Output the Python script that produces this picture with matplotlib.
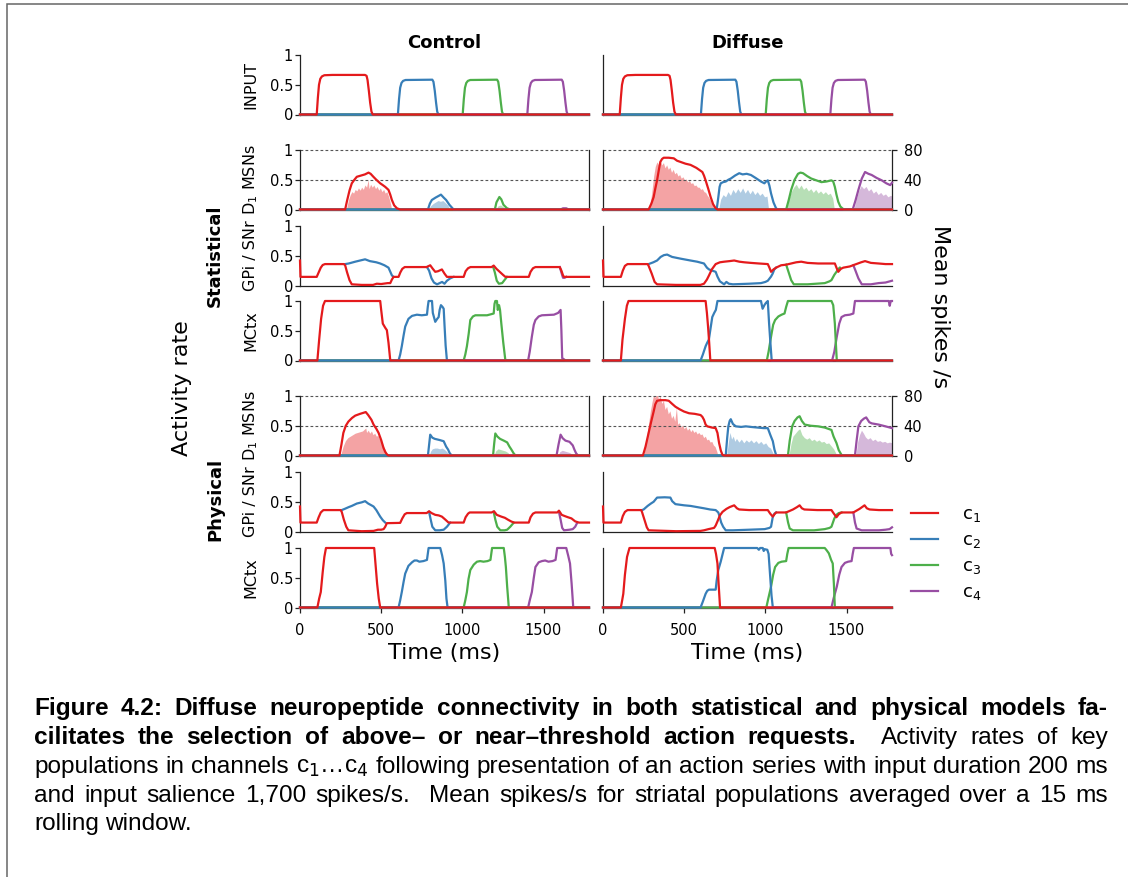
import matplotlib
matplotlib.use('Agg')
import matplotlib.pyplot as plt
from matplotlib.lines import Line2D
from matplotlib.patches import Rectangle

plt.rcParams['font.family'] = ['DejaVu Sans']
plt.rcParams['mathtext.fontset'] = 'dejavusans'

# ---- labels / categories ----
column_titles = ['Control', 'Diffuse']
model_names = ['Statistical', 'Physical']
row_labels = ['INPUT', 'D$_1$ MSNs', 'GPi / SNr', 'MCtx', 'D$_1$ MSNs', 'GPi / SNr', 'MCtx']
channel_names = ['c$_1$', 'c$_2$', 'c$_3$', 'c$_4$']
channel_colors = ['#e41a1c', '#377eb8', '#4daf4a', '#984ea3']
time_ticks = [0, 500, 1000, 1500]
rate_ticks = [0, 0.5, 1]
rate_ticklabels = ['0', '0.5', '1']
spike_ticks = [0, 40, 80]
t_max = 1780

# ---- input salience (same for both columns), (time ms, activity) ----
input_c1 = [(0, 0), (103, 0), (110, 0.28), (117, 0.5), (125, 0.6), (135, 0.64), (150, 0.66), (200, 0.665),
            (400, 0.665), (410, 0.65), (416, 0.58), (424, 0.4), (432, 0.2), (440, 0.05), (448, 0), (1780, 0)]
input_c2 = [(0, 0), (603, 0), (610, 0.26), (617, 0.45), (625, 0.53), (635, 0.565), (650, 0.58), (815, 0.585),
            (822, 0.55), (830, 0.4), (838, 0.2), (845, 0.05), (852, 0), (1780, 0)]
input_c3 = [(0, 0), (1002, 0), (1009, 0.26), (1016, 0.45), (1024, 0.53), (1034, 0.565), (1049, 0.58), (1214, 0.585),
            (1221, 0.55), (1229, 0.4), (1237, 0.2), (1244, 0.05), (1251, 0), (1780, 0)]
input_c4 = [(0, 0), (1400, 0), (1407, 0.26), (1414, 0.45), (1422, 0.53), (1432, 0.565), (1447, 0.58), (1612, 0.585),
            (1619, 0.55), (1627, 0.4), (1635, 0.2), (1642, 0.05), (1649, 0), (1780, 0)]

# ---- statistical / control ----
sc_d1_c1 = [(0, 0), (278, 0), (290, 0.15), (305, 0.32), (319, 0.44), (335, 0.5), (350, 0.55), (375, 0.57),
            (400, 0.59), (422, 0.62), (435, 0.6), (452, 0.55), (470, 0.5), (494, 0.44), (510, 0.41), (525, 0.38),
            (545, 0.33), (556, 0.25), (566, 0.16), (580, 0.07), (597, 0.02), (617, 0), (1780, 0)]
sc_d1_c2 = [(0, 0), (788, 0), (800, 0.1), (812, 0.16), (835, 0.2), (855, 0.23), (868, 0.25), (885, 0.2),
            (900, 0.16), (920, 0.08), (946, 0), (1780, 0)]
sc_d1_c3 = [(0, 0), (1200, 0), (1210, 0.12), (1228, 0.21), (1240, 0.17), (1253, 0.08), (1275, 0.02), (1296, 0),
            (1780, 0)]
sc_d1_c4 = [(0, 0), (1605, 0), (1620, 0.02), (1640, 0.02), (1655, 0), (1780, 0)]
# mean spikes/s
sc_fill_c1 = [(285, 0), (300, 14), (310, 20), (320, 24), (330, 22), (340, 27), (350, 25), (360, 29), (370, 26),
              (380, 30), (390, 27), (400, 33), (410, 30), (420, 40), (425, 28), (435, 34), (445, 30), (455, 33),
              (465, 28), (475, 31), (485, 26), (495, 29), (505, 24), (515, 27), (525, 22), (535, 24), (545, 18),
              (555, 10), (565, 0)]
sc_fill_c2 = [(790, 0), (805, 5), (820, 8), (835, 10), (850, 12), (865, 11), (880, 12), (895, 9), (910, 6), (925, 0)]
sc_fill_c3 = [(1205, 0), (1220, 5), (1235, 6), (1250, 4), (1265, 0)]
sc_fill_c4 = [(1610, 0), (1625, 1), (1640, 0)]

sc_gp_c1 = [(0, 0.42), (3, 0.145), (103, 0.145), (115, 0.22), (128, 0.3), (140, 0.345), (154, 0.36), (270, 0.36),
            (278, 0.34), (290, 0.22), (305, 0.09), (319, 0.02), (380, 0.01), (450, 0.01), (473, 0.03), (500, 0.025),
            (540, 0.04), (556, 0.04), (566, 0.1), (576, 0.145), (607, 0.145), (618, 0.22), (630, 0.28), (645, 0.31),
            (780, 0.31), (802, 0.34), (818, 0.28), (833, 0.23), (850, 0.24), (874, 0.27), (890, 0.2), (905, 0.145),
            (1008, 0.145), (1020, 0.24), (1035, 0.29), (1050, 0.31), (1180, 0.31), (1193, 0.335), (1210, 0.28),
            (1230, 0.23), (1250, 0.18), (1265, 0.145), (1409, 0.145), (1420, 0.23), (1435, 0.29), (1450, 0.31),
            (1600, 0.31), (1610, 0.25), (1620, 0.17), (1626, 0.145), (1780, 0.145)]
sc_gp_c2 = [[(278, 0.36), (300, 0.37), (340, 0.4), (370, 0.42), (401, 0.44), (430, 0.41), (470, 0.39), (494, 0.37),
             (520, 0.34), (545, 0.3), (566, 0.17), (576, 0.145)],
            [(782, 0.31), (795, 0.25), (810, 0.12), (825, 0.05), (844, 0.02), (860, 0.04), (875, 0.06), (890, 0.03),
             (905, 0.08), (925, 0.12), (946, 0.145)]]
sc_gp_c3 = [(1190, 0.31), (1200, 0.22), (1212, 0.08), (1225, 0.03), (1245, 0.04), (1262, 0.1), (1275, 0.145)]
sc_gp_c4 = [(1600, 0.31), (1612, 0.2), (1620, 0.13), (1630, 0.13), (1640, 0.145)]

sc_mc_c1 = [(0, 0), (107, 0), (118, 0.35), (130, 0.7), (142, 0.92), (154, 1.0), (494, 1.0), (500, 0.85), (510, 0.62),
            (525, 0.55), (535, 0.51), (545, 0.3), (556, 0), (1780, 0)]
sc_mc_c2 = [(0, 0), (607, 0), (617, 0.1), (627, 0.24), (638, 0.42), (648, 0.57), (668, 0.7), (690, 0.75), (720, 0.77),
            (750, 0.76), (782, 0.77), (787, 0.9), (792, 1.0), (813, 1.0), (818, 0.8), (833, 0.65), (845, 0.7),
            (854, 0.73), (860, 0.85), (868, 0.93), (878, 0.9), (885, 0.87), (890, 0.6), (897, 0.25), (905, 0),
            (1780, 0)]
sc_mc_c3 = [(0, 0), (1008, 0), (1018, 0.1), (1028, 0.24), (1039, 0.45), (1049, 0.68), (1065, 0.74), (1080, 0.76),
            (1152, 0.76), (1180, 0.78), (1193, 0.79), (1198, 0.95), (1203, 1.0), (1213, 1.0), (1218, 0.85),
            (1226, 0.93), (1232, 0.85), (1240, 0.62), (1252, 0.3), (1265, 0), (1780, 0)]
sc_mc_c4 = [(0, 0), (1405, 0), (1415, 0.15), (1428, 0.4), (1440, 0.6), (1450, 0.68), (1470, 0.74), (1490, 0.76),
            (1564, 0.77), (1590, 0.8), (1605, 0.85), (1610, 0.5), (1615, 0.04), (1636, 0), (1780, 0)]

# ---- statistical / diffuse ----
sd_d1_c1 = [(0, 0), (281, 0), (298, 0.1), (312, 0.21), (322, 0.35), (333, 0.49), (343, 0.65), (353, 0.8), (364, 0.85),
            (374, 0.87), (405, 0.87), (436, 0.86), (456, 0.82), (477, 0.8), (508, 0.77), (539, 0.75), (575, 0.7),
            (612, 0.63), (622, 0.57), (632, 0.49), (648, 0.35), (663, 0.21), (678, 0.09), (694, 0.02), (705, 0),
            (1780, 0)]
sd_d1_c2 = [(0, 0), (700, 0), (710, 0.2), (718, 0.38), (725, 0.44), (740, 0.46), (756, 0.47), (772, 0.5), (787, 0.52),
            (813, 0.57), (839, 0.61), (860, 0.59), (885, 0.6), (911, 0.58), (940, 0.53), (973, 0.47), (994, 0.44),
            (1004, 0.47), (1015, 0.49), (1025, 0.4), (1035, 0.27), (1050, 0.12), (1066, 0.02), (1076, 0), (1780, 0)]
sd_d1_c3 = [(0, 0), (1128, 0), (1143, 0.15), (1159, 0.33), (1180, 0.5), (1201, 0.6), (1216, 0.62), (1232, 0.61),
            (1258, 0.56), (1283, 0.52), (1314, 0.49), (1345, 0.46), (1376, 0.47), (1407, 0.49), (1418, 0.47),
            (1428, 0.38), (1438, 0.25), (1449, 0.13), (1462, 0.05), (1474, 0.02), (1484, 0), (1780, 0)]
sd_d1_c4 = [(0, 0), (1538, 0), (1555, 0.15), (1573, 0.33), (1594, 0.52), (1614, 0.63), (1635, 0.6), (1655, 0.58),
            (1686, 0.53), (1717, 0.49), (1745, 0.44), (1769, 0.41), (1780, 0.45)]
sd_fill_c1 = [(285, 0), (300, 22), (312, 45), (322, 58), (332, 64), (342, 60), (352, 66), (362, 60), (372, 63),
              (382, 56), (392, 60), (402, 54), (412, 57), (422, 50), (432, 54), (442, 48), (452, 50), (462, 45),
              (472, 47), (482, 42), (492, 44), (502, 40), (512, 41), (522, 37), (532, 39), (542, 35), (552, 36),
              (562, 32), (572, 33), (582, 30), (592, 30), (602, 27), (612, 28), (622, 24), (632, 23), (642, 19),
              (652, 16), (662, 12), (672, 8), (682, 4), (692, 0)]
sd_fill_c2 = [(712, 0), (725, 14), (740, 20), (755, 17), (770, 24), (785, 19), (800, 27), (815, 22), (830, 28),
              (845, 23), (860, 29), (875, 22), (890, 27), (905, 21), (920, 26), (935, 20), (950, 24), (965, 19),
              (980, 22), (995, 17), (1010, 18), (1020, 0)]
sd_fill_c3 = [(1130, 0), (1145, 15), (1160, 24), (1175, 30), (1190, 34), (1205, 28), (1220, 33), (1235, 27),
              (1250, 30), (1265, 25), (1280, 28), (1295, 23), (1310, 27), (1325, 22), (1340, 25), (1355, 21),
              (1370, 24), (1385, 20), (1400, 22), (1415, 15), (1425, 0)]
sd_fill_c4 = [(1545, 0), (1560, 14), (1575, 25), (1590, 32), (1605, 28), (1620, 31), (1635, 25), (1650, 28),
              (1665, 22), (1680, 25), (1695, 20), (1710, 23), (1725, 19), (1740, 21), (1755, 17), (1770, 19),
              (1780, 18)]

sd_gp_c1 = [(0, 0.42), (3, 0.145), (110, 0.145), (122, 0.25), (135, 0.33), (151, 0.36), (275, 0.36), (281, 0.33),
            (300, 0.2), (318, 0.06), (333, 0.02), (450, 0.01), (600, 0.01), (622, 0.03), (640, 0.1), (653, 0.17),
            (670, 0.27), (694, 0.36), (720, 0.39), (746, 0.4), (780, 0.41), (808, 0.42), (840, 0.4), (870, 0.39),
            (911, 0.38), (960, 0.37), (1015, 0.36), (1025, 0.3), (1035, 0.23), (1050, 0.27), (1066, 0.3),
            (1097, 0.34), (1128, 0.35), (1159, 0.37), (1190, 0.39), (1221, 0.4), (1260, 0.38), (1325, 0.37),
            (1380, 0.37), (1428, 0.37), (1438, 0.3), (1449, 0.23), (1465, 0.28), (1480, 0.3), (1520, 0.32),
            (1560, 0.36), (1590, 0.39), (1614, 0.41), (1650, 0.38), (1697, 0.37), (1740, 0.36), (1780, 0.36)]
sd_gp_c2 = [(281, 0.36), (310, 0.39), (333, 0.42), (355, 0.48), (375, 0.51), (395, 0.52), (410, 0.5), (426, 0.48),
            (480, 0.45), (539, 0.42), (580, 0.4), (622, 0.37), (640, 0.3), (653, 0.27), (673, 0.25), (694, 0.23),
            (705, 0.15), (720, 0.07), (746, 0.02), (760, 0.06), (775, 0.03), (800, 0.02), (900, 0.03), (973, 0.04),
            (1000, 0.06), (1015, 0.08), (1035, 0.15), (1045, 0.2), (1055, 0.27), (1066, 0.3)]
sd_gp_c3 = [(1128, 0.35), (1140, 0.25), (1159, 0.09), (1175, 0.02), (1260, 0.02), (1366, 0.04), (1395, 0.07),
            (1407, 0.09), (1425, 0.18), (1438, 0.23), (1450, 0.28), (1459, 0.3)]
sd_gp_c4 = [(1542, 0.34), (1555, 0.25), (1573, 0.12), (1594, 0.02), (1650, 0.02), (1697, 0.04), (1740, 0.05),
            (1780, 0.08)]

sd_mc_c1 = [(0, 0), (110, 0), (120, 0.35), (135, 0.7), (147, 0.92), (157, 1.0), (632, 1.0), (640, 0.8), (647, 0.57),
            (654, 0.3), (661, 0), (1780, 0)]
sd_mc_c2 = [(0, 0), (601, 0), (615, 0.1), (632, 0.24), (642, 0.3), (652, 0.35), (663, 0.55), (673, 0.73), (685, 0.8),
            (695, 0.85), (705, 1.0), (973, 1.0), (983, 0.87), (994, 0.93), (1004, 0.97), (1015, 1.0), (1023, 0.62),
            (1031, 0.3), (1039, 0), (1780, 0)]
sd_mc_c3 = [(0, 0), (1009, 0), (1020, 0.15), (1035, 0.4), (1048, 0.6), (1060, 0.68), (1080, 0.74), (1100, 0.77),
            (1118, 0.79), (1128, 0.9), (1139, 1.0), (1407, 1.0), (1418, 0.93), (1428, 0.62), (1434, 0.3), (1440, 0),
            (1780, 0)]
sd_mc_c4 = [(0, 0), (1411, 0), (1425, 0.15), (1440, 0.4), (1455, 0.62), (1469, 0.73), (1490, 0.76), (1520, 0.77),
            (1542, 0.79), (1547, 0.9), (1552, 1.0), (1760, 1.0), (1766, 0.92), (1772, 1.0), (1780, 1.0)]

# ---- physical / control ----
pc_d1_c1 = [(0, 0), (243, 0), (255, 0.18), (267, 0.38), (282, 0.5), (298, 0.57), (320, 0.63), (340, 0.67), (370, 0.7),
            (405, 0.73), (420, 0.68), (440, 0.6), (453, 0.52), (470, 0.45), (484, 0.38), (500, 0.26), (514, 0.13),
            (525, 0.06), (535, 0.02), (545, 0), (1780, 0)]
pc_d1_c2 = [(0, 0), (788, 0), (796, 0.2), (802, 0.35), (815, 0.3), (830, 0.28), (860, 0.26), (885, 0.24), (900, 0.15),
            (912, 0.1), (922, 0.04), (934, 0), (1780, 0)]
pc_d1_c3 = [(0, 0), (1189, 0), (1196, 0.2), (1203, 0.37), (1215, 0.32), (1232, 0.28), (1255, 0.25), (1276, 0.22),
            (1290, 0.15), (1302, 0.1), (1315, 0.04), (1327, 0), (1780, 0)]
pc_d1_c4 = [(0, 0), (1580, 0), (1592, 0.18), (1605, 0.35), (1618, 0.29), (1635, 0.25), (1660, 0.23), (1680, 0.17),
            (1690, 0.1), (1700, 0.04), (1712, 0), (1780, 0)]
pc_fill_c1 = [(250, 0), (265, 12), (280, 20), (295, 24), (310, 26), (325, 28), (340, 30), (355, 31), (370, 32),
              (385, 33), (395, 35), (405, 37), (410, 31), (420, 34), (430, 30), (440, 33), (450, 28), (460, 30),
              (470, 26), (480, 27), (490, 22), (500, 20), (510, 15), (520, 10), (530, 5), (545, 0)]
pc_fill_c2 = [(795, 0), (805, 6), (815, 9), (830, 10), (845, 10), (860, 9), (875, 10), (890, 8), (905, 5), (920, 0)]
pc_fill_c3 = [(1195, 0), (1205, 6), (1220, 9), (1235, 8), (1250, 7), (1265, 6), (1280, 4), (1295, 0)]
pc_fill_c4 = [(1590, 0), (1600, 5), (1615, 7), (1630, 6), (1645, 5), (1660, 4), (1675, 2), (1690, 0)]

pc_gp_c1 = [(0, 0.42), (3, 0.15), (103, 0.15), (115, 0.24), (128, 0.32), (144, 0.36), (250, 0.36), (257, 0.33),
            (270, 0.2), (285, 0.08), (298, 0.02), (380, 0.005), (453, 0.01), (480, 0.03), (500, 0.03), (515, 0.04),
            (525, 0.08), (535, 0.14), (617, 0.145), (630, 0.22), (645, 0.29), (658, 0.31), (780, 0.31), (795, 0.34),
            (810, 0.31), (833, 0.28), (855, 0.27), (874, 0.25), (895, 0.2), (915, 0.15), (1008, 0.15), (1020, 0.24),
            (1035, 0.3), (1045, 0.32), (1180, 0.32), (1195, 0.34), (1212, 0.28), (1240, 0.25), (1262, 0.23),
            (1280, 0.2), (1300, 0.17), (1317, 0.15), (1409, 0.15), (1420, 0.24), (1435, 0.3), (1450, 0.32),
            (1585, 0.32), (1595, 0.35), (1612, 0.28), (1630, 0.26), (1650, 0.24), (1672, 0.22), (1695, 0.17),
            (1718, 0.15), (1780, 0.15)]
pc_gp_c2 = [[(257, 0.36), (275, 0.38), (300, 0.41), (319, 0.43), (350, 0.47), (380, 0.49), (401, 0.51), (420, 0.47),
             (440, 0.44), (453, 0.42), (470, 0.36), (494, 0.25), (510, 0.19), (525, 0.15)],
            [(795, 0.33), (805, 0.2), (815, 0.08), (833, 0.02), (860, 0.02), (885, 0.03), (905, 0.08), (925, 0.15)]]
pc_gp_c3 = [(1193, 0.33), (1203, 0.2), (1215, 0.08), (1234, 0.02), (1260, 0.02), (1276, 0.03), (1295, 0.08),
            (1317, 0.15)]
pc_gp_c4 = [(1595, 0.33), (1605, 0.2), (1615, 0.06), (1626, 0.02), (1660, 0.03), (1680, 0.04), (1695, 0.08),
            (1708, 0.15)]

pc_mc_c1 = [(0, 0), (107, 0), (118, 0.15), (128, 0.26), (140, 0.6), (150, 0.85), (160, 1.0), (457, 1.0), (466, 0.7),
            (475, 0.4), (485, 0.15), (494, 0), (1780, 0)]
pc_mc_c2 = [(0, 0), (607, 0), (617, 0.12), (627, 0.26), (638, 0.43), (648, 0.57), (668, 0.7), (690, 0.76), (705, 0.79),
            (720, 0.79), (735, 0.77), (760, 0.78), (782, 0.8), (787, 0.9), (792, 1.0), (864, 1.0), (875, 0.88),
            (885, 0.74), (895, 0.45), (902, 0.15), (909, 0), (1780, 0)]
pc_mc_c3 = [(0, 0), (1008, 0), (1018, 0.12), (1028, 0.26), (1038, 0.48), (1049, 0.63), (1070, 0.72), (1090, 0.77),
            (1110, 0.78), (1130, 0.77), (1155, 0.78), (1173, 0.8), (1178, 0.9), (1183, 1.0), (1255, 1.0), (1262, 0.85),
            (1268, 0.68), (1276, 0.35), (1286, 0), (1780, 0)]
pc_mc_c4 = [(0, 0), (1405, 0), (1415, 0.12), (1428, 0.26), (1440, 0.5), (1450, 0.68), (1470, 0.76), (1490, 0.78),
            (1510, 0.79), (1530, 0.77), (1555, 0.78), (1574, 0.8), (1579, 0.9), (1584, 1.0), (1640, 1.0), (1652, 0.87),
            (1663, 0.74), (1673, 0.4), (1683, 0), (1780, 0)]

# ---- physical / diffuse ----
pd_d1_c1 = [(0, 0), (246, 0), (262, 0.15), (281, 0.38), (296, 0.56), (312, 0.74), (322, 0.86), (333, 0.92),
            (353, 0.93), (385, 0.93), (405, 0.92), (425, 0.87), (446, 0.82), (470, 0.78), (498, 0.74), (530, 0.71),
            (565, 0.7), (601, 0.68), (612, 0.65), (622, 0.6), (632, 0.52), (642, 0.49), (670, 0.47), (694, 0.46),
            (705, 0.38), (715, 0.21), (726, 0.08), (736, 0.01), (745, 0), (1780, 0)]
pd_d1_c2 = [(0, 0), (756, 0), (765, 0.3), (772, 0.49), (780, 0.58), (787, 0.61), (800, 0.53), (818, 0.49), (850, 0.48),
            (880, 0.49), (911, 0.48), (950, 0.47), (990, 0.46), (1015, 0.46), (1030, 0.35), (1046, 0.24), (1056, 0.1),
            (1066, 0.01), (1075, 0), (1780, 0)]
pd_d1_c3 = [(0, 0), (1139, 0), (1150, 0.25), (1165, 0.49), (1180, 0.58), (1198, 0.64), (1211, 0.66), (1225, 0.58),
            (1242, 0.52), (1280, 0.5), (1325, 0.49), (1365, 0.47), (1407, 0.43), (1420, 0.32), (1438, 0.21),
            (1452, 0.09), (1469, 0.01), (1478, 0), (1780, 0)]
pd_d1_c4 = [(0, 0), (1552, 0), (1562, 0.25), (1573, 0.49), (1590, 0.58), (1607, 0.62), (1621, 0.64), (1640, 0.56),
            (1655, 0.54), (1697, 0.52), (1740, 0.49), (1780, 0.46)]
pd_fill_c1 = [(252, 0), (265, 20), (280, 42), (292, 60), (302, 72), (312, 82), (322, 78), (332, 84), (342, 76),
              (352, 80), (362, 70), (372, 74), (382, 62), (392, 66), (402, 56), (412, 60), (422, 50), (432, 54),
              (442, 46), (452, 64), (460, 42), (470, 44), (480, 38), (490, 41), (500, 36), (510, 39), (520, 34),
              (530, 37), (540, 32), (550, 35), (560, 31), (570, 33), (580, 29), (590, 31), (600, 28), (610, 29),
              (620, 24), (630, 26), (640, 21), (650, 22), (660, 18), (670, 19), (680, 14), (690, 12), (700, 6),
              (708, 0)]
pd_fill_c2 = [(762, 0), (772, 18), (782, 31), (792, 22), (802, 26), (812, 19), (822, 23), (837, 18), (852, 22),
              (867, 17), (882, 21), (897, 18), (912, 21), (927, 17), (942, 20), (957, 16), (972, 19), (987, 15),
              (1002, 17), (1017, 12), (1032, 10), (1045, 4), (1055, 0)]
pd_fill_c3 = [(1145, 0), (1158, 16), (1170, 26), (1185, 30), (1200, 34), (1212, 36), (1225, 28), (1240, 24),
              (1255, 22), (1270, 24), (1285, 20), (1300, 22), (1315, 19), (1330, 21), (1345, 18), (1360, 19),
              (1375, 16), (1390, 17), (1405, 13), (1420, 9), (1432, 4), (1440, 0)]
pd_fill_c4 = [(1558, 0), (1568, 18), (1580, 28), (1592, 34), (1604, 30), (1616, 25), (1630, 22), (1645, 24),
              (1660, 20), (1675, 22), (1690, 19), (1705, 20), (1720, 18), (1735, 19), (1750, 17), (1765, 18),
              (1780, 17)]

pd_gp_c1 = [(0, 0.42), (3, 0.15), (110, 0.15), (122, 0.26), (135, 0.33), (151, 0.36), (235, 0.36), (240, 0.33),
            (255, 0.2), (270, 0.07), (281, 0.02), (450, 0.005), (600, 0.01), (622, 0.02), (650, 0.04), (684, 0.06),
            (694, 0.1), (705, 0.17), (720, 0.27), (736, 0.33), (760, 0.38), (780, 0.41), (808, 0.44), (825, 0.39),
            (839, 0.37), (900, 0.36), (960, 0.36), (1015, 0.36), (1030, 0.3), (1046, 0.25), (1056, 0.29),
            (1066, 0.32), (1128, 0.32), (1170, 0.37), (1195, 0.41), (1211, 0.44), (1225, 0.39), (1240, 0.37),
            (1320, 0.36), (1407, 0.36), (1422, 0.3), (1438, 0.24), (1452, 0.29), (1469, 0.32), (1542, 0.32),
            (1580, 0.38), (1611, 0.44), (1625, 0.39), (1642, 0.37), (1700, 0.36), (1780, 0.36)]
pd_gp_c2 = [(240, 0.36), (250, 0.37), (275, 0.43), (295, 0.47), (312, 0.5), (333, 0.57), (380, 0.575), (415, 0.57),
            (426, 0.51), (446, 0.46), (500, 0.44), (539, 0.43), (580, 0.41), (622, 0.39), (660, 0.37), (694, 0.36),
            (710, 0.32), (715, 0.28), (728, 0.15), (740, 0.08), (756, 0.02), (800, 0.02), (900, 0.03), (996, 0.04),
            (1025, 0.06), (1035, 0.08), (1046, 0.25), (1056, 0.3), (1066, 0.32)]
pd_gp_c3 = [(1128, 0.32), (1140, 0.15), (1150, 0.05), (1170, 0.02), (1300, 0.02), (1366, 0.04), (1395, 0.06),
            (1407, 0.08), (1425, 0.22), (1438, 0.28), (1452, 0.31), (1469, 0.32)]
pd_gp_c4 = [(1542, 0.32), (1552, 0.15), (1562, 0.05), (1593, 0.02), (1700, 0.02), (1740, 0.03), (1765, 0.04),
            (1780, 0.07)]

pd_mc_c1 = [(0, 0), (110, 0), (118, 0.12), (125, 0.23), (135, 0.55), (148, 0.85), (163, 1.0), (688, 1.0), (696, 0.9),
            (705, 0.74), (712, 0.4), (721, 0), (1780, 0)]
pd_mc_c2 = [(0, 0), (601, 0), (615, 0.1), (632, 0.23), (642, 0.28), (653, 0.3), (694, 0.3), (700, 0.45), (710, 0.63),
            (725, 0.77), (735, 0.88), (746, 1.0), (950, 1.0), (960, 0.97), (968, 1.0), (984, 1.0), (990, 0.95),
            (996, 0.98), (1012, 0.97), (1020, 0.9), (1030, 0.51), (1038, 0.2), (1046, 0), (1780, 0)]
pd_mc_c3 = [(0, 0), (1006, 0), (1018, 0.15), (1035, 0.35), (1048, 0.55), (1060, 0.68), (1080, 0.75), (1100, 0.77),
            (1128, 0.78), (1135, 0.9), (1143, 1.0), (1366, 1.0), (1378, 0.96), (1391, 0.91), (1405, 0.8), (1415, 0.74),
            (1422, 0.4), (1428, 0), (1780, 0)]
pd_mc_c4 = [(0, 0), (1407, 0), (1420, 0.15), (1440, 0.35), (1455, 0.55), (1469, 0.68), (1490, 0.75), (1510, 0.77),
            (1531, 0.78), (1538, 0.9), (1545, 1.0), (1770, 1.0), (1775, 0.9), (1780, 0.88)]

# (row, column) -> curves for c1..c4
panel_lines = {
    (0, 0): [input_c1, input_c2, input_c3, input_c4],
    (0, 1): [input_c1, input_c2, input_c3, input_c4],
    (1, 0): [sc_d1_c1, sc_d1_c2, sc_d1_c3, sc_d1_c4],
    (1, 1): [sd_d1_c1, sd_d1_c2, sd_d1_c3, sd_d1_c4],
    (2, 0): [sc_gp_c1, sc_gp_c2, sc_gp_c3, sc_gp_c4],
    (2, 1): [sd_gp_c1, sd_gp_c2, sd_gp_c3, sd_gp_c4],
    (3, 0): [sc_mc_c1, sc_mc_c2, sc_mc_c3, sc_mc_c4],
    (3, 1): [sd_mc_c1, sd_mc_c2, sd_mc_c3, sd_mc_c4],
    (4, 0): [pc_d1_c1, pc_d1_c2, pc_d1_c3, pc_d1_c4],
    (4, 1): [pd_d1_c1, pd_d1_c2, pd_d1_c3, pd_d1_c4],
    (5, 0): [pc_gp_c1, pc_gp_c2, pc_gp_c3, pc_gp_c4],
    (5, 1): [pd_gp_c1, pd_gp_c2, pd_gp_c3, pd_gp_c4],
    (6, 0): [pc_mc_c1, pc_mc_c2, pc_mc_c3, pc_mc_c4],
    (6, 1): [pd_mc_c1, pd_mc_c2, pd_mc_c3, pd_mc_c4],
}
panel_fills = {
    (1, 0): [sc_fill_c1, sc_fill_c2, sc_fill_c3, sc_fill_c4],
    (1, 1): [sd_fill_c1, sd_fill_c2, sd_fill_c3, sd_fill_c4],
    (4, 0): [pc_fill_c1, pc_fill_c2, pc_fill_c3, pc_fill_c4],
    (4, 1): [pd_fill_c1, pd_fill_c2, pd_fill_c3, pd_fill_c4],
}

caption_lines = [
    [('Figure 4.2: Diffuse neuropeptide connectivity in both statistical and physical models fa-', 'bold')],
    [('cilitates the selection of above\u2013 or near\u2013threshold action requests.', 'bold'),
     ('Activity rates of key', 'normal')],
    [('populations in channels c$_1$\u2026c$_4$ following presentation of an action series with input duration 200 ms',
      'normal')],
    [('and input salience 1,700 spikes/s. Mean spikes/s for striatal populations averaged over a 15 ms', 'normal')],
    [('rolling window.', 'normal')],
]

# ---- layout (pixels) ----
W, H = 1128, 877
fig = plt.figure(figsize=(W / 100, H / 100), dpi=100)
col_x = [300, 603]
col_w = 289
row_y = [55, 150, 226, 301, 396, 472, 548]
row_h = 59.5
spine_c = '#222222'


def fx(x):
    return x / W


def fy(y):
    return 1 - y / H


def as_segments(entry):
    if isinstance(entry[0][0], (list, tuple)):
        return entry
    return [entry]


for r in range(7):
    for c in range(2):
        ax = fig.add_axes([fx(col_x[c]), fy(row_y[r] + row_h), col_w / W, row_h / H])
        ax.set_xlim(0, t_max)
        ax.set_ylim(0, 1)
        for s in ['top', 'right']:
            ax.spines[s].set_visible(False)
        for s in ['left', 'bottom']:
            ax.spines[s].set_linewidth(0.9)
            ax.spines[s].set_color(spine_c)
        ax.tick_params(length=3.5, width=0.9, color=spine_c, labelsize=10.5)
        ax.tick_params(axis='y', pad=1.5)
        ax.tick_params(axis='x', pad=7.5)

        if c == 0:
            ax.set_yticks(rate_ticks)
            ax.set_yticklabels(rate_ticklabels)
        else:
            ax.set_yticks([])

        if r == 6:
            ax.set_xticks(time_ticks)
            ax.set_xticklabels([str(t) for t in time_ticks])
            ax.set_xlabel('Time (ms)', fontsize=16)
            ax.xaxis.set_label_coords(0.5, -0.6)
        else:
            ax.set_xticks([])

        key = (r, c)
        if key in panel_fills:
            ax2 = ax.twinx()
            ax2.set_ylim(0, 80)
            for s in ['top', 'left', 'bottom']:
                ax2.spines[s].set_visible(False)
            ax2.spines['right'].set_linewidth(0.9)
            ax2.spines['right'].set_color(spine_c)
            ax2.tick_params(length=3.5, width=0.9, color=spine_c, labelsize=10.5, pad=5)
            if c == 1:
                ax2.set_yticks(spike_ticks)
            else:
                ax2.set_yticks([])
            for i in range(3, -1, -1):
                ft, fv = zip(*panel_fills[key][i])
                ax2.fill_between(ft, fv, color=channel_colors[i], alpha=0.4, lw=0)
            ax.set_zorder(ax2.get_zorder() + 1)
            ax.patch.set_visible(False)
            for yv in [0.5, 1.0]:
                ax.axhline(yv, color='#555555', lw=0.8, ls=(0, (2.5, 2)), zorder=1, clip_on=False)

        for i in range(3, -1, -1):
            for seg in as_segments(panel_lines[key][i]):
                lt, lv = zip(*seg)
                ax.plot(lt, lv, color=channel_colors[i], lw=1.6, clip_on=False, zorder=3 + (3 - i),
                        solid_joinstyle='round')

# column titles, row labels, group labels
for c in range(2):
    fig.text(fx(col_x[c] + col_w / 2), fy(43), column_titles[c], fontsize=13, fontweight='bold',
             ha='center', va='center')
for r in range(7):
    fig.text(fx(251), fy(row_y[r] + row_h / 2), row_labels[r], fontsize=11.5, rotation=90,
             ha='center', va='center')
fig.text(fx(215), fy(256), model_names[0], fontsize=13, fontweight='bold', rotation=90, ha='center', va='center')
fig.text(fx(215), fy(499), model_names[1], fontsize=13, fontweight='bold', rotation=90, ha='center', va='center')
fig.text(fx(182), fy(388), 'Activity rate', fontsize=16, rotation=90, ha='center', va='center')
fig.text(fx(940), fy(307), 'Mean spikes /s', fontsize=16, rotation=270, ha='center', va='center')

# channel legend
for i in range(4):
    ly = 513 + 26 * i
    fig.add_artist(Line2D([fx(911), fx(938)], [fy(ly), fy(ly)], color=channel_colors[i], lw=1.6))
    fig.text(fx(962), fy(ly + 2), channel_names[i], fontsize=13, ha='left', va='center')

# frame around figure (its right and bottom edges run off the page)
fig.add_artist(Rectangle((fx(7), fy(900)), fx(1150), fy(4) - fy(900), transform=fig.transFigure,
                         fill=False, edgecolor='#666666', lw=1.1))

# justified caption
renderer = fig.canvas.get_renderer()
cap_font = 'Liberation Sans'
cap_x0, cap_x1 = 34, 1108
cap_base = [715, 744, 773, 802, 830]
min_gap = 6.5

caption_words = []
for parts in caption_lines:
    words = []
    for txt, wt in parts:
        for w in txt.split(' '):
            words.append((w, wt))
    caption_words.append(words)


def word_widths(words, size):
    out = []
    for w, wt in words:
        t = fig.text(0, 0, w, fontsize=size, fontweight=wt, family=cap_font)
        out.append(t.get_window_extent(renderer).width)
        t.remove()
    return out


def gap_weights(words):
    return [2.0 if w.endswith('.') else 1.0 for w, _ in words[:-1]]


cap_size = 100.0
for words in caption_words[:-1]:
    total = sum(word_widths(words, 10))
    fit = 10 * (cap_x1 - cap_x0 - min_gap * sum(gap_weights(words))) / total
    cap_size = min(cap_size, fit)

for li, words in enumerate(caption_words):
    widths = word_widths(words, cap_size)
    weights = gap_weights(words)
    if li == len(caption_words) - 1:
        gap = min_gap
    else:
        gap = (cap_x1 - cap_x0 - sum(widths)) / sum(weights)
    x = cap_x0
    for k, (w, wt) in enumerate(words):
        fig.text(fx(x), fy(cap_base[li]), w, fontsize=cap_size, fontweight=wt, family=cap_font,
                 ha='left', va='baseline')
        if k < len(weights):
            x += widths[k] + gap * weights[k]

fig.savefig('out.png', dpi=100)
